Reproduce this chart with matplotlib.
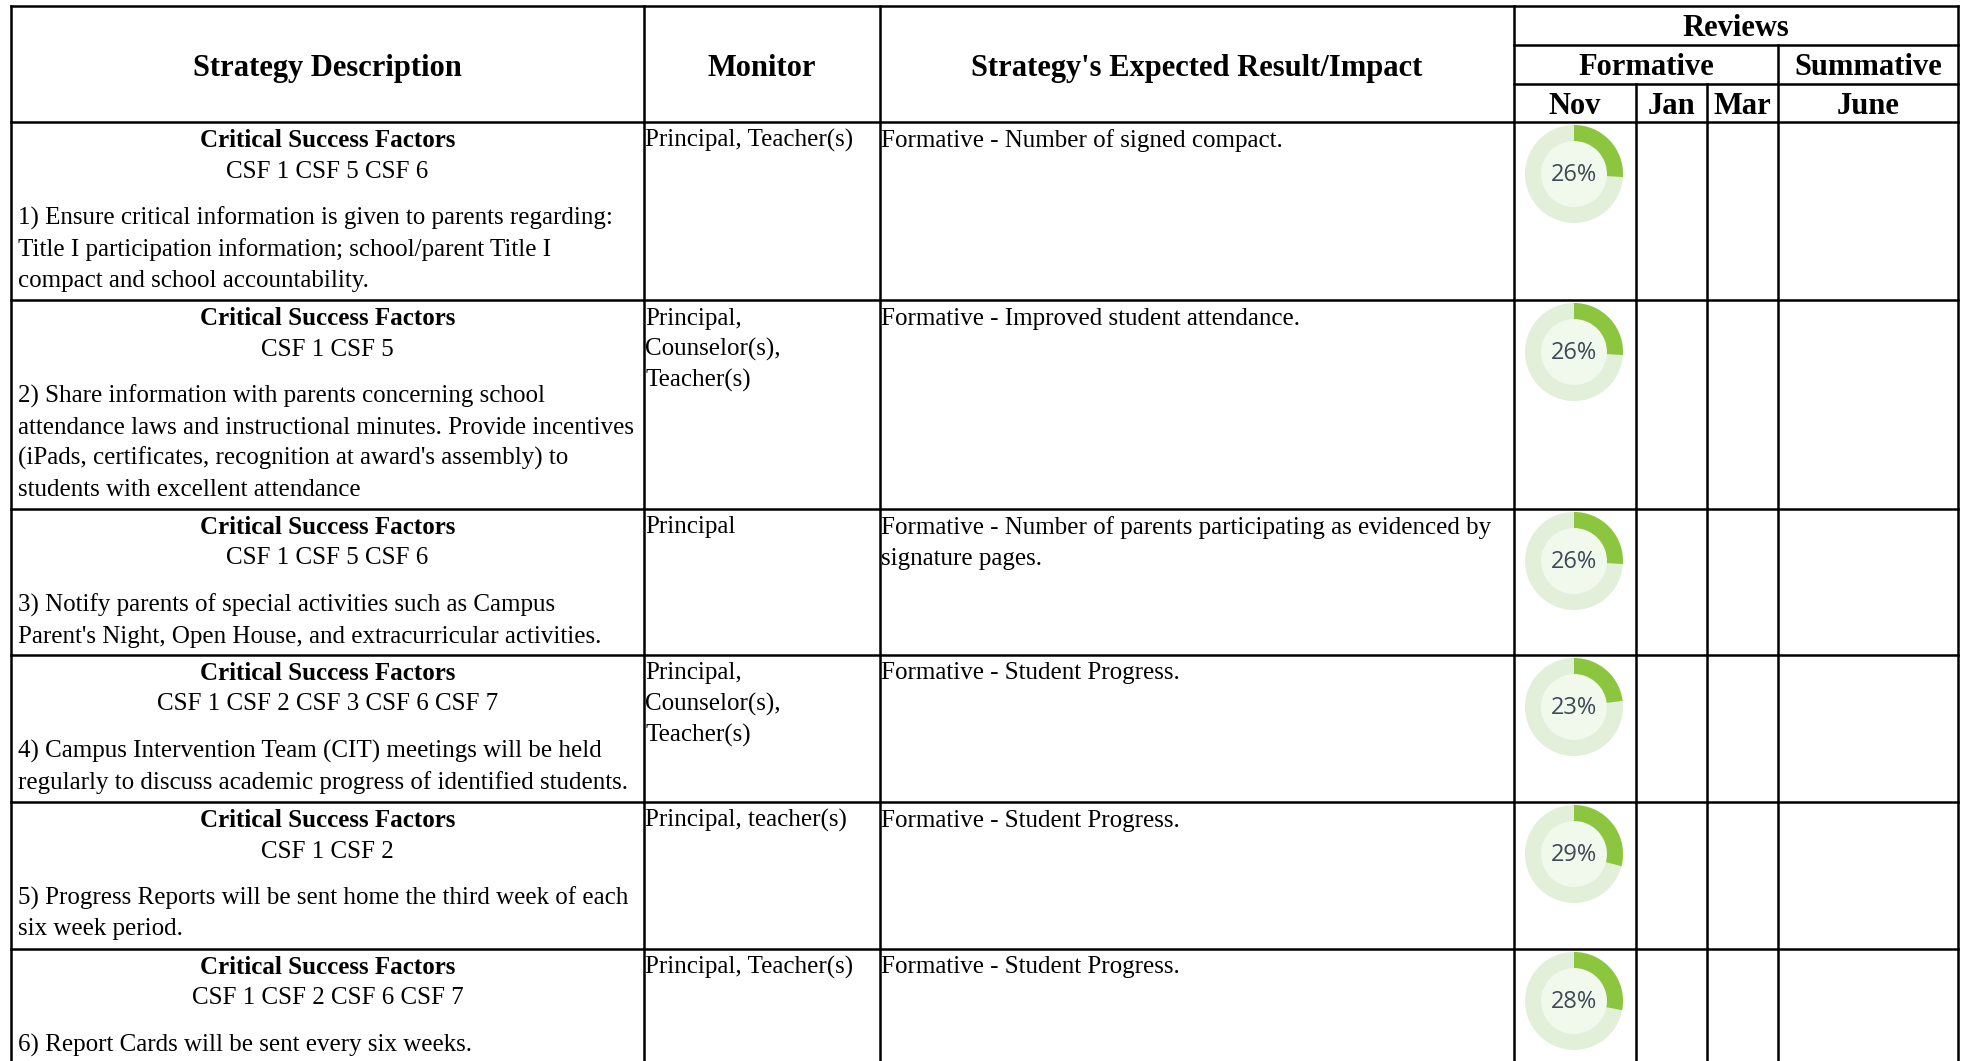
import matplotlib
matplotlib.use("Agg")
import matplotlib.pyplot as plt
from matplotlib.patches import Wedge, Circle

# ---- data ----
csf_lists = [
    "CSF 1 CSF 5 CSF 6",
    "CSF 1 CSF 5",
    "CSF 1 CSF 5 CSF 6",
    "CSF 1 CSF 2 CSF 3 CSF 6 CSF 7",
    "CSF 1 CSF 2",
    "CSF 1 CSF 2 CSF 6 CSF 7",
]
strategies = [
    ["1) Ensure critical information is given to parents regarding:",
     "Title I participation information; school/parent Title I",
     "compact and school accountability."],
    ["2) Share information with parents concerning school",
     "attendance laws and instructional minutes. Provide incentives",
     "(iPads, certificates, recognition at award's assembly) to",
     "students with excellent attendance"],
    ["3) Notify parents of special activities such as Campus",
     "Parent's Night, Open House, and extracurricular activities."],
    ["4) Campus Intervention Team (CIT) meetings will be held",
     "regularly to discuss academic progress of identified students."],
    ["5) Progress Reports will be sent home the third week of each",
     "six week period."],
    ["6) Report Cards will be sent every six weeks."],
]
monitors = [
    ["Principal, Teacher(s)"],
    ["Principal,", "Counselor(s),", "Teacher(s)"],
    ["Principal"],
    ["Principal,", "Counselor(s),", "Teacher(s)"],
    ["Principal, teacher(s)"],
    ["Principal, Teacher(s)"],
]
results = [
    ["Formative - Number of signed compact."],
    ["Formative - Improved student attendance."],
    ["Formative - Number of parents participating as evidenced by",
     "signature pages."],
    ["Formative - Student Progress."],
    ["Formative - Student Progress."],
    ["Formative - Student Progress."],
]
nov_pct = [26, 26, 26, 23, 29, 28]
months = ["Nov", "Jan", "Mar", "June"]

# ---- layout (pixel coords) ----
W, H = 1969, 1061
col_x = [11, 644, 880, 1514, 1636, 1707, 1778, 1958]
row_y = [122, 300, 509, 655, 802, 949, 1075]
hdr_top = 6
hdr_y1, hdr_y2 = 45, 84

SERIF = "Liberation Serif"
body_fs = 18
hdr_fs = 22
line_h = 31
LW = 1.8

fig = plt.figure(figsize=(W / 100, H / 100), dpi=100)
ax = fig.add_axes([0, 0, 1, 1])
ax.set_xlim(0, W)
ax.set_ylim(H, 0)
ax.axis("off")

def hline(y, x0, x1):
    ax.plot([x0, x1], [y, y], color="black", lw=LW, solid_capstyle="projecting")

def vline(x, y0, y1):
    ax.plot([x, x], [y0, y1], color="black", lw=LW, solid_capstyle="projecting")

# grid
hline(hdr_top, col_x[0], col_x[-1])
hline(hdr_y1, col_x[3], col_x[-1])
hline(hdr_y2, col_x[3], col_x[-1])
for y in row_y[:-1]:
    hline(y, col_x[0], col_x[-1])
for i, x in enumerate(col_x):
    if i in (4, 5):
        vline(x, hdr_y2, H + 10)
    elif i == 6:
        vline(x, hdr_y1, H + 10)
    else:
        vline(x, hdr_top, H + 10)

# headers
bold = dict(family=SERIF, fontweight="bold", fontsize=hdr_fs, ha="center", va="center")
ax.text((col_x[0] + col_x[1]) / 2, 68.5, "Strategy Description", **bold)
ax.text((col_x[1] + col_x[2]) / 2, 68.5, "Monitor", **bold)
ax.text((col_x[2] + col_x[3]) / 2, 68.5, "Strategy's Expected Result/Impact", **bold)
ax.text((col_x[3] + col_x[7]) / 2, 28, "Reviews", **bold)
ax.text((col_x[3] + col_x[6]) / 2, 67.5, "Formative", **bold)
ax.text((col_x[6] + col_x[7]) / 2, 67.5, "Summative", **bold)
for i, m in enumerate(months):
    x0 = col_x[3 + i]
    x1 = col_x[4 + i] if i < 3 else col_x[7]
    ax.text((x0 + x1) / 2, 107, m, **bold)

# rows
for r in range(len(nov_pct)):
    top = row_y[r] + 2.5
    cx = (col_x[0] + col_x[1]) / 2
    ax.text(cx, top + 16, "Critical Success Factors", family=SERIF, fontweight="bold",
            fontsize=body_fs, ha="center", va="center")
    ax.text(cx, top + 47, csf_lists[r], family=SERIF, fontsize=body_fs,
            ha="center", va="center")
    for i, ln in enumerate(strategies[r]):
        ax.text(col_x[0] + 7, top + 94 + i * line_h, ln, family=SERIF,
                fontsize=body_fs, ha="left", va="center")
    for i, ln in enumerate(monitors[r]):
        ax.text(col_x[1] + 1, top + 16 + i * line_h, ln, family=SERIF,
                fontsize=body_fs, ha="left", va="center")
    for i, ln in enumerate(results[r]):
        ax.text(col_x[2] + 1, top + 16 + i * line_h, ln, family=SERIF,
                fontsize=body_fs, ha="left", va="center")

    # donut for Nov review
    dx, dy = 1574, row_y[r] + 52
    ax.add_patch(Circle((dx, dy), 49, color="#e2f0d9", lw=0))
    ax.add_patch(Circle((dx, dy), 33, color="#f1f8ec", lw=0))
    # y axis inverted: angles measured clockwise on screen
    ax.add_patch(Wedge((dx, dy), 49, -90, -90 + 360 * nov_pct[r] / 100,
                       width=16, color="#8cc63f", lw=0))
    ax.text(dx, dy + 1, f"{nov_pct[r]}%", family="Open Sans", fontsize=17,
            color="#3f4a56", ha="center", va="center")

fig.savefig("out.png", dpi=100, facecolor="white")
